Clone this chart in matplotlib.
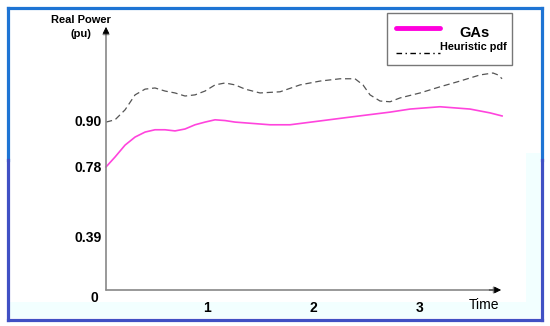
import numpy as np
import matplotlib
matplotlib.use("Agg")
import matplotlib.pyplot as plt
from matplotlib.lines import Line2D
from matplotlib.patches import Rectangle
from matplotlib.transforms import ScaledTranslation

plt.rcParams['font.family'] = ['Liberation Sans', 'DejaVu Sans']

# ---- data ----
ga_t = [0.056, 0.141, 0.235, 0.329, 0.423, 0.516, 0.610, 0.704, 0.798, 0.892, 0.986,
        1.080, 1.174, 1.268, 1.362, 1.596, 1.784, 2.066, 2.347, 2.723, 2.911, 3.192,
        3.474, 3.662, 3.775]
ga_p = [0.780, 0.806, 0.837, 0.858, 0.871, 0.877, 0.877, 0.874, 0.879, 0.890, 0.897,
        0.903, 0.901, 0.897, 0.895, 0.890, 0.890, 0.900, 0.910, 0.923, 0.931, 0.937,
        0.931, 0.921, 0.913]

hp_t = [0.056, 0.141, 0.235, 0.329, 0.423, 0.516, 0.610, 0.704, 0.798, 0.892, 0.986,
        1.080, 1.174, 1.268, 1.362, 1.502, 1.690, 1.878, 2.066, 2.254, 2.394, 2.469,
        2.535, 2.629, 2.723, 2.817, 3.005, 3.192, 3.380, 3.568, 3.690, 3.737, 3.775]
hp_p = [0.897, 0.903, 0.929, 0.968, 0.983, 0.986, 0.978, 0.973, 0.965, 0.968, 0.978,
        0.994, 0.999, 0.994, 0.983, 0.973, 0.976, 0.994, 1.004, 1.010, 1.010, 0.994,
        0.968, 0.952, 0.950, 0.960, 0.973, 0.989, 1.004, 1.020, 1.025, 1.020, 1.010]

y_ticks = [0, 0.39, 0.78, 0.90]
y_tick_labels = ['0', '0.39', '0.78', '0.90']
x_ticks = [1, 2, 3]
x_tick_labels = ['1', '2', '3']

# non-uniform axis (schematic): value -> display units
_v = [-1.0, 0.0, 0.39, 0.78, 0.90, 2.0]
_d = [-290.0, 0.0, 53.0, 123.0, 169.0, 169.0 + 1.10 * 383.3]
def fwd(v):
    return np.interp(v, _v, _d)
def inv(d):
    return np.interp(d, _d, _v)

W, H = 550, 326
fig = plt.figure(figsize=(5.5, 3.26), dpi=100)
fig.patch.set_facecolor('white')

def fx(px):
    return px / W
def fy(py):
    return 1 - py / H

# light cyan tint inside frame
fig.add_artist(Rectangle((fx(10), fy(318)), fx(530), 16 / H, transform=fig.transFigure,
                         facecolor='#F2FFFF', edgecolor='none', zorder=0))
fig.add_artist(Rectangle((fx(526), fy(318)), fx(14), 165 / H, transform=fig.transFigure,
                         facecolor='#F2FFFF', edgecolor='none', zorder=0))

ax = fig.add_axes([fx(106), fy(290), fx(395), 263 / H])
ax.set_facecolor('none')
ax.set_yscale('function', functions=(fwd, inv))
ax.set_xlim(0.056, 3.765)
ax.set_ylim(0, 1.145)

ax.plot(hp_t, hp_p, color='#555555', lw=0.9, dashes=(5, 3), clip_on=False)
ax.plot(ga_t, ga_p, color='#FF44DD', lw=1.2, clip_on=False)

for s in ax.spines.values():
    s.set_visible(False)
ax.set_yticks(y_ticks)
ax.set_yticklabels(y_tick_labels, fontsize=10, fontweight='bold')
ax.set_xticks(x_ticks)
ax.set_xticklabels(x_tick_labels, fontsize=10, fontweight='bold')
ax.tick_params(length=0, pad=3)
ax.tick_params(axis='x', pad=8)
ax.minorticks_off()
zero_lab = ax.get_yticklabels()[0]
zero_lab.set_transform(zero_lab.get_transform() +
                       ScaledTranslation(-4 / 100, -6 / 100, fig.dpi_scale_trans))

# axis arrows
ax.annotate('', xy=(0, 1.0), xytext=(0, 0), xycoords='axes fraction',
            arrowprops=dict(arrowstyle='-|>', color='#888888', lw=1.2,
                            mutation_scale=10, shrinkA=0, shrinkB=0))
ax.annotate('', xy=(1.0, 0), xytext=(0, 0), xycoords='axes fraction',
            arrowprops=dict(arrowstyle='-|>', color='#888888', lw=1.2,
                            mutation_scale=10, shrinkA=0, shrinkB=0))
ax.annotate('', xy=(0, 1.0), xytext=(0, 0.97), xycoords='axes fraction',
            arrowprops=dict(arrowstyle='-|>', color='black', lw=0.5,
                            mutation_scale=10, shrinkA=0, shrinkB=0))
ax.annotate('', xy=(1.0, 0), xytext=(0.97, 0), xycoords='axes fraction',
            arrowprops=dict(arrowstyle='-|>', color='black', lw=0.5,
                            mutation_scale=10, shrinkA=0, shrinkB=0))

fig.text(fx(81), fy(27), 'Real Power\n(pu)', ha='center', va='center',
         fontsize=8, fontweight='bold', linespacing=1.4)
fig.text(fx(484), fy(305), 'Time', ha='center', va='center', fontsize=10)

# legend
fig.add_artist(Rectangle((fx(387), fy(65)), fx(125), 52 / H, transform=fig.transFigure,
                         facecolor='white', edgecolor='#777777', lw=1.0, zorder=3))
fig.add_artist(Line2D([fx(396), fx(440)], [fy(28), fy(28)], transform=fig.transFigure,
                      color='#FF00DD', lw=3.5, solid_capstyle='round', zorder=4))
fig.text(fx(474), fy(33), 'GAs', ha='center', va='center', fontsize=10.5,
         fontweight='bold', zorder=4)
fig.add_artist(Line2D([fx(396), fx(440)], [fy(53), fy(53)], transform=fig.transFigure,
                      color='black', lw=1.0, dashes=(4, 2.5, 1, 2.5), zorder=4))
fig.text(fx(440), fy(47), 'Heuristic pdf', ha='left', va='center', fontsize=7.8,
         fontweight='bold', zorder=4)

# outer frame (blue, darker indigo toward bottom)
top_c = '#1E74D4'
bot_c = '#4050C4'
lw = 2.3
fig.add_artist(Line2D([fx(8), fx(541.5)], [fy(8), fy(8)], transform=fig.transFigure,
                      color=top_c, lw=lw, solid_capstyle='projecting', zorder=5))
fig.add_artist(Line2D([fx(8), fx(541.5)], [fy(319.5), fy(319.5)], transform=fig.transFigure,
                      color=bot_c, lw=lw, solid_capstyle='projecting', zorder=5))
fig.add_artist(Line2D([fx(8), fx(8)], [fy(8), fy(160)], transform=fig.transFigure,
                      color=top_c, lw=lw, zorder=5))
fig.add_artist(Line2D([fx(8), fx(8)], [fy(160), fy(319.5)], transform=fig.transFigure,
                      color=bot_c, lw=lw, zorder=5))
fig.add_artist(Line2D([fx(541.5), fx(541.5)], [fy(8), fy(160)], transform=fig.transFigure,
                      color=top_c, lw=lw, zorder=5))
fig.add_artist(Line2D([fx(541.5), fx(541.5)], [fy(160), fy(319.5)], transform=fig.transFigure,
                      color=bot_c, lw=lw, zorder=5))

fig.savefig('out.png', dpi=100, facecolor='white')
